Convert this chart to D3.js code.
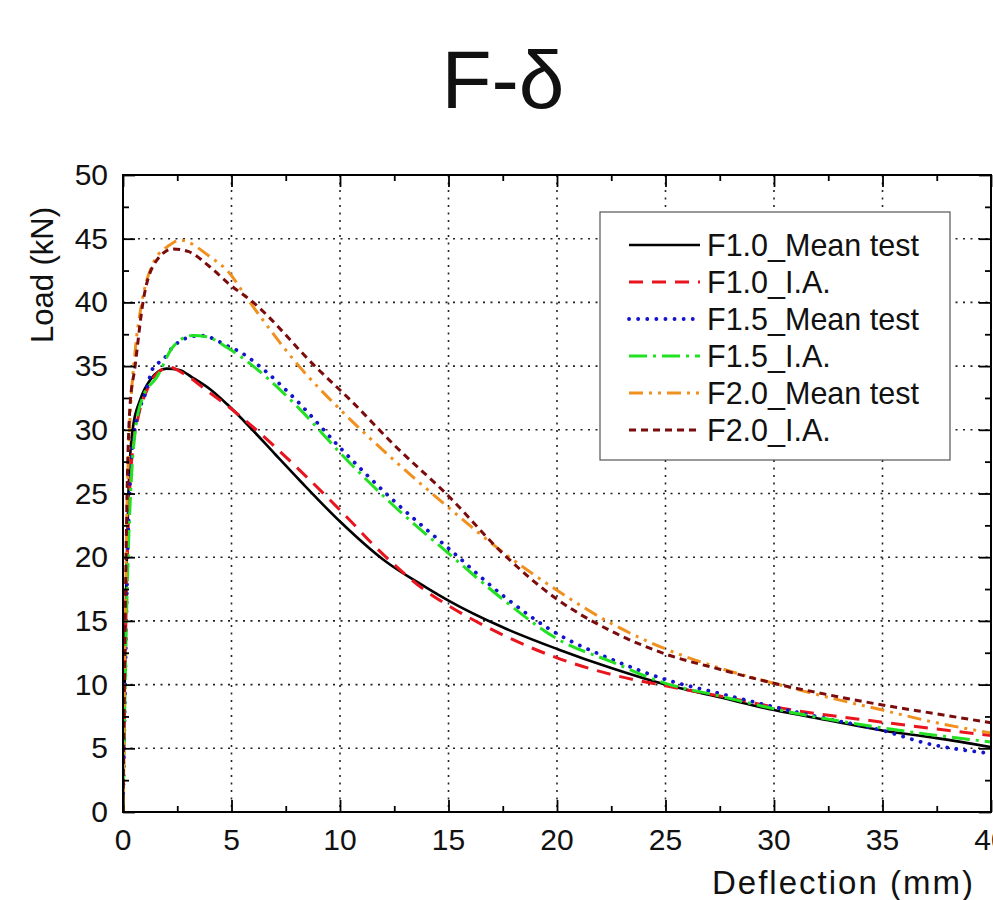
<!DOCTYPE html>
<html>
<head>
<meta charset="utf-8">
<script src="https://cdn.jsdelivr.net/npm/d3@7"></script>
<style>
  body { margin: 0; background: #fff; }
  text { font-family: "Liberation Sans", Arial, sans-serif; fill: #111; }
</style>
</head>
<body>
<div id="chart"></div>
<script>
// series: [deflection mm, load kN]
const f10Test = [[0,0],[0.08,10],[0.15,18],[0.25,25],[0.35,28.5],[0.46,30.2],[0.78,32.3],[1.25,33.9],[2.0,34.8],[2.6,34.7],[3.2,34.1],[4.0,33.2],[4.8,32.0],[5.85,30.2],[7,28.1],[8.16,26.0],[10,22.8],[12,19.8],[14,17.6],[15,16.6],[17.5,14.5],[20,12.8],[22.5,11.3],[25,10.0],[27.5,9.0],[30,8.0],[32.5,7.2],[35,6.4],[37.5,5.8],[40,5.1]];
const f10IA = [[0,0],[0.1,12],[0.2,20],[0.3,25],[0.45,28.5],[0.7,31],[1.1,33.1],[1.55,34.4],[2.15,34.9],[2.8,34.4],[4.0,32.9],[4.8,31.9],[6,30.2],[8.16,26.8],[10,23.7],[12,20.2],[14,17.3],[15,16.2],[17.5,13.9],[20,12.1],[22.5,10.8],[25,9.9],[27.5,9.1],[30,8.25],[35,7.05],[40,6.0]];
const f15Test = [[0,0],[0.1,10],[0.2,19],[0.3,25],[0.5,29.5],[0.7,31.3],[1.0,32.7],[1.4,34.9],[1.85,35.5],[2.25,36.4],[3.1,37.3],[3.6,37.4],[4.8,36.6],[5.5,36.0],[6.5,34.7],[8,32.3],[10,28.6],[12.5,24.4],[15,20.7],[17.5,17.0],[20,14.0],[22.5,12.0],[25,10.4],[27.5,9.3],[30,8.25],[32.5,7.3],[35,6.4],[37,5.4],[40,4.6]];
const f15IA = [[0,0],[0.1,10],[0.2,18],[0.35,25],[0.55,29.7],[0.92,32.6],[1.55,34.1],[2.3,36.5],[3.2,37.4],[3.85,37.3],[4.85,36.4],[6.0,35.0],[8.16,31.6],[10,28.2],[12.5,24.0],[15,20.3],[17.5,16.7],[20,13.6],[22.5,11.8],[25,10.1],[27.5,9.1],[30,8.1],[35,6.6],[40,5.5]];
const f20Test = [[0,0],[0.1,14],[0.2,25],[0.3,30],[0.55,36],[0.87,40],[1.4,43.1],[2.15,44.5],[2.6,44.9],[4.0,43.6],[4.8,42.5],[5.85,40],[8.16,34.9],[10,31.6],[12.5,27.6],[15,23.9],[17.5,20.4],[20,17.4],[22.5,14.8],[25,12.8],[27.5,11.3],[30,10.1],[32.5,9.0],[35,8.0],[37.5,7.0],[40,6.2]];
const f20IA = [[0,0],[0.1,15],[0.2,26],[0.32,31.8],[0.55,34.9],[0.92,40],[1.55,43.3],[2.3,44.2],[3,44.0],[4.0,42.8],[4.85,41.5],[6.0,40],[8.9,34.9],[10.5,32.3],[12.5,28.8],[15,24.8],[17.5,20.3],[20,16.7],[22.5,14.2],[25,12.4],[27.5,11.2],[30,10.1],[32.5,9.2],[35,8.4],[37.5,7.7],[40,7.0]];

const seriesNames = ["F1.0_Mean test", "F1.0_I.A.", "F1.5_Mean test", "F1.5_I.A.", "F2.0_Mean test", "F2.0_I.A."];
const seriesData = [f10Test, f10IA, f15Test, f15IA, f20Test, f20IA];
const xTicks = [0, 5, 10, 15, 20, 25, 30, 35, 40];
const yTicks = [0, 5, 10, 15, 20, 25, 30, 35, 40, 45, 50];

// line looks, one per series
const styles = [
    {color: "#000000", dash: null, width: 2.6, cap: "butt"},
    {color: "#e8141e", dash: "14,9", width: 3, cap: "butt"},
    {color: "#1414cc", dash: "0.1,9", width: 3.8, cap: "round"},
    {color: "#22e022", dash: "18,6,3,6", width: 3, cap: "butt"},
    {color: "#f0901e", dash: "14,6,3,6,3,6", width: 3, cap: "butt"},
    {color: "#7a0c0c", dash: "7,5", width: 3, cap: "butt"}
];

var margin = {top: 175, right: 2, bottom: 88, left: 123},
    totalW = 993, totalH = 900,
    width = totalW - margin.left - margin.right,
    height = totalH - margin.top - margin.bottom;

var x = d3.scaleLinear().domain([0, 40]).range([0, width]);
var y = d3.scaleLinear().domain([0, 50]).range([height, 0]);

let svg = d3.select("#chart").append("svg")
    .attr("width", totalW)
    .attr("height", totalH);

// title
svg.append("text")
    .attr("x", 503).attr("y", 108)
    .attr("text-anchor", "middle")
    .style("font-size", "82px")
    .text("F-δ");

let g = svg.append("g")
    .attr("transform", "translate(" + margin.left + "," + margin.top + ")");

// dotted grid
g.append("g").selectAll("line").data(xTicks.filter(d => d > 0 && d < 40)).join("line")
    .attr("x1", d => x(d)).attr("x2", d => x(d))
    .attr("y1", 0).attr("y2", height)
    .attr("stroke", "#222").attr("stroke-width", 1.6)
    .attr("stroke-dasharray", "2,5.5");
g.append("g").selectAll("line").data(yTicks.filter(d => d > 0 && d < 50)).join("line")
    .attr("x1", 0).attr("x2", width)
    .attr("y1", d => y(d)).attr("y2", d => y(d))
    .attr("stroke", "#222").attr("stroke-width", 1.6)
    .attr("stroke-dasharray", "2,5.5");

// curves
g.append("clipPath").attr("id", "plotclip")
    .append("rect").attr("width", width).attr("height", height);

let valueline = d3.line()
    .x(d => x(d[0]))
    .y(d => y(d[1]))
    .curve(d3.curveMonotoneX);

seriesData.forEach((s, i) => {
    g.append("path")
        .datum(s)
        .attr("clip-path", "url(#plotclip)")
        .attr("d", valueline)
        .attr("fill", "none")
        .attr("stroke", styles[i].color)
        .attr("stroke-width", styles[i].width)
        .attr("stroke-linecap", styles[i].cap)
        .attr("stroke-dasharray", styles[i].dash);
});

// axes with inward ticks, minor ticks halfway
function tickAxis(axis, scale, vals, tick) {
    return axis(scale).tickValues(vals).tickSize(-tick).tickFormat("").tickSizeOuter(0);
}
let xMinor = d3.range(2.5, 40, 5);
let yMinor = d3.range(2.5, 50, 5);

g.append("g").attr("transform", "translate(0," + height + ")").call(tickAxis(d3.axisBottom, x, xTicks, 12));
g.append("g").attr("transform", "translate(0," + height + ")").call(tickAxis(d3.axisBottom, x, xMinor, 6));
g.append("g").call(tickAxis(d3.axisTop, x, xTicks, 12));
g.append("g").call(tickAxis(d3.axisTop, x, xMinor, 6));
g.append("g").call(tickAxis(d3.axisLeft, y, yTicks, 12));
g.append("g").call(tickAxis(d3.axisLeft, y, yMinor, 6));
g.append("g").attr("transform", "translate(" + width + ",0)").call(tickAxis(d3.axisRight, y, yTicks, 12));
g.append("g").attr("transform", "translate(" + width + ",0)").call(tickAxis(d3.axisRight, y, yMinor, 6));
g.selectAll(".domain").remove();
g.selectAll(".tick line").attr("stroke", "#000").attr("stroke-width", 1.8);

// frame
g.append("rect")
    .attr("width", width).attr("height", height)
    .attr("fill", "none").attr("stroke", "#000").attr("stroke-width", 2);

// tick labels
g.append("g").selectAll("text").data(xTicks).join("text")
    .attr("x", d => x(d)).attr("y", height + 38)
    .attr("text-anchor", "middle")
    .style("font-size", "30px")
    .text(d => d);
g.append("g").selectAll("text").data(yTicks).join("text")
    .attr("x", -15).attr("y", d => y(d) + 10)
    .attr("text-anchor", "end")
    .style("font-size", "30px")
    .text(d => d);

// axis titles
svg.append("text")
    .attr("transform", "translate(53,275) rotate(-90)")
    .attr("text-anchor", "middle")
    .style("font-size", "31px")
    .text("Load (kN)");
svg.append("text")
    .attr("x", 712).attr("y", 894)
    .style("font-size", "33px")
    .style("letter-spacing", "2px")
    .text("Deflection (mm)");

// legend
let legend = svg.append("g");
legend.append("rect")
    .attr("x", 600).attr("y", 212)
    .attr("width", 350).attr("height", 248)
    .attr("fill", "#fff").attr("stroke", "#555").attr("stroke-width", 1.2);

seriesNames.forEach((name, i) => {
    let cy = 245 + i * 37;
    legend.append("line")
        .attr("x1", 629).attr("x2", 700)
        .attr("y1", cy).attr("y2", cy)
        .attr("stroke", styles[i].color)
        .attr("stroke-width", styles[i].width)
        .attr("stroke-linecap", styles[i].cap)
        .attr("stroke-dasharray", styles[i].dash);
    legend.append("text")
        .attr("x", 707).attr("y", cy + 11)
        .style("font-size", "30.5px")
        .text(name);
});
</script>
</body>
</html>
